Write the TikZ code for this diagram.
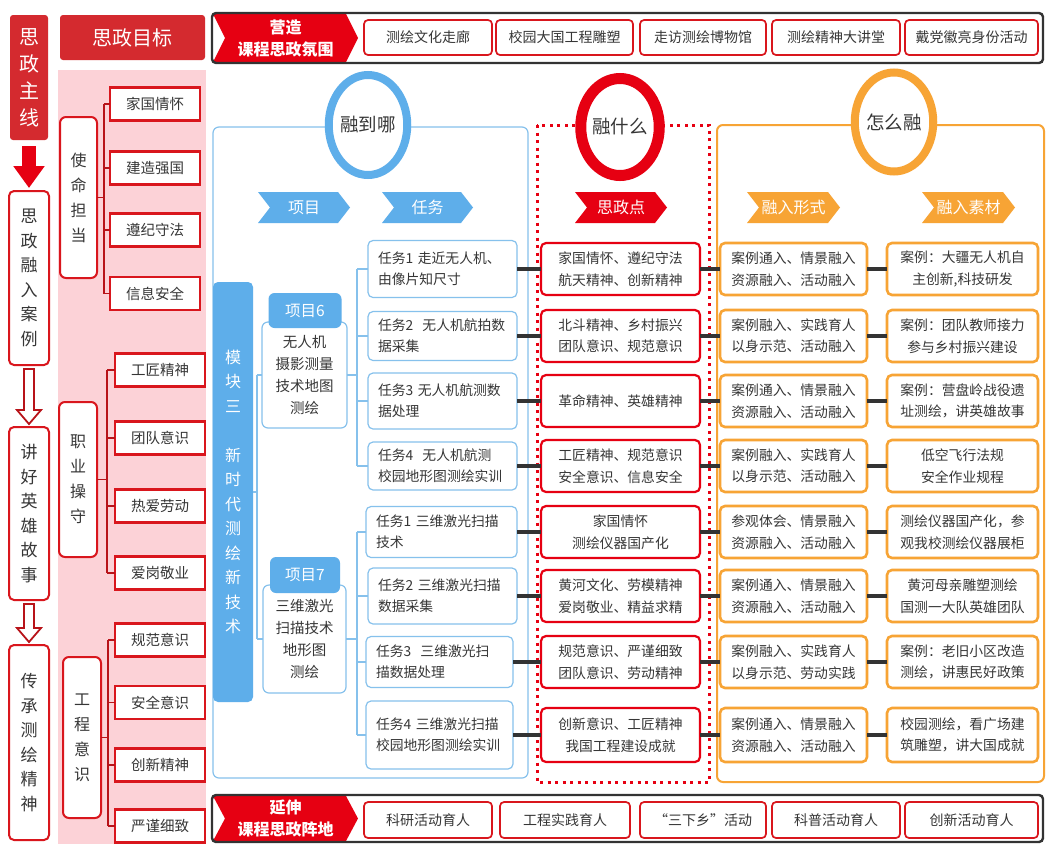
\documentclass[tikz,border=0pt]{standalone}
\usepackage{fontspec}
\setmainfont{Noto Sans CJK SC}
\usetikzlibrary{shapes.geometric,calc,arrows.meta}
\newcommand{\zfs}[2]{\fontsize{#1}{#2}\selectfont}
\definecolor{zred}{HTML}{E60012}
\definecolor{hred}{HTML}{D42A2F}
\definecolor{bred}{HTML}{D9161D}
\definecolor{pinkbg}{HTML}{FCD2D7}
\definecolor{zblue}{HTML}{5EAEEA}
\definecolor{lblue}{HTML}{86C1EC}
\definecolor{zorange}{HTML}{F7A435}
\definecolor{txt}{HTML}{363636}
\definecolor{dk}{HTML}{333333}
\tikzset{
 every node/.style={inner sep=0pt, outer sep=0pt},
 lefthead/.style={fill=hred, rounded corners=3pt, text=white, align=center},
 vlabel/.style={draw=bred, line width=2pt, fill=white, rounded corners=5pt, font=\zfs{17}{24.5}, align=center, text=txt},
 hollow/.style={draw=bred!85!black, line width=1.8pt, fill=white, line join=miter},
 goalitem/.style={draw=bred, line width=2.4pt, fill=white, font=\zfs{14.5}{18}, text=txt, minimum width=90, minimum height=33},
 grp/.style={draw=bred, line width=2pt, fill=white, rounded corners=6pt, font=\zfs{16}{25}, align=center, text=txt},
 brk/.style={draw=bred!85!black, line width=1.1pt},
 banner/.style={draw=dk, line width=2.4pt, rounded corners=4pt},
 banitem/.style={draw=bred, line width=1.7pt, fill=white, rounded corners=4pt, font=\zfs{14}{17}, text=txt, minimum height=35},
 chevtext/.style={text=white, font=\zfs{16}{20}, align=center},
 bantext/.style={text=white, font=\bfseries\zfs{16}{22}, align=center},
 ring/.style={ellipse, fill=white, font=\zfs{18.5}{22}, text=txt},
 modbar/.style={fill=zblue, rounded corners=5pt, text=white, font=\zfs{16}{24.5}, align=center},
 proj/.style={draw=lblue, line width=1.2pt, fill=white, rounded corners=6pt, font=\zfs{14.5}{22}, text=txt, align=center},
 projhead/.style={fill=zblue, rounded corners=6pt, text=white, font=\zfs{15.5}{18}},
 task/.style={draw=lblue, line width=1.2pt, fill=white, rounded corners=5pt, font=\zfs{13.8}{21}, text=txt, align=left},
 bconn/.style={draw=lblue, line width=1.2pt},
 dconn/.style={draw=dk, line width=3.6pt},
 point/.style={draw=zred, line width=2.2pt, fill=white, rounded corners=5pt, font=\zfs{13.8}{21.5}, text=txt, align=center, minimum width=159, minimum height=52},
 form/.style={draw=zorange, line width=2.6pt, fill=white, rounded corners=5pt, font=\zfs{13.8}{21.5}, text=txt, align=center, minimum width=147, minimum height=52},
 mat/.style={draw=zorange, line width=2.6pt, fill=white, rounded corners=5pt, font=\zfs{13.8}{21.5}, text=txt, align=center, minimum width=151, minimum height=52},
}
% name, x1, x2, y1, y2, colour, depth, text, text style
\newcommand{\chev}[9]{%
  \fill[#6] (#2,#4) -- ({#3-#7},#4) -- (#3,{(#4+#5)/2}) -- ({#3-#7},#5) -- (#2,#5) -- ({#2+#7},{(#4+#5)/2}) -- cycle;
  \node[#9] (#1) at ({(#2+#3)/2},{(#4+#5)/2}) {#8};}
\newcommand{\harrow}[2]{\draw[hollow] ($(#1.south)+(-5,4)$) -- ($(#2.north)+(-5,-17)$) -- ($(#2.north)+(-12,-17)$) -- ($(#2.north)+(0,-3)$) -- ($(#2.north)+(12,-17)$) -- ($(#2.north)+(5,-17)$) -- ($(#1.south)+(5,4)$) -- cycle;}
\begin{document}
\begin{tikzpicture}[x=1pt,y=-1pt]
\useasboundingbox (0,0) rectangle (1048,844);
\fill[white] (0,0) rectangle (1048,844);

% ---------- left column ----------
\node[lefthead, minimum width=38, minimum height=125, font=\zfs{20}{27}] (mainline) at (29,77.5) {思\\政\\主\\线};
\node[vlabel, minimum width=40, minimum height=174] (c1) at (29,278) {思\\政\\融\\入\\案\\例};
\node[vlabel, minimum width=40, minimum height=173] (c2) at (29,513.5) {讲\\好\\英\\雄\\故\\事};
\node[vlabel, minimum width=40, minimum height=195] (c3) at (29,742.5) {传\\承\\测\\绘\\精\\神};
\draw[zred, line width=14pt, -{Triangle[length=22pt,width=30pt]}] ($(mainline.south)+(0,6)$) -- ($(c1.north)+(0,-3)$);
\harrow{c1}{c2}
\harrow{c2}{c3}

% ---------- goals column ----------
\fill[pinkbg] (58,70) rectangle (206,844);
\node[lefthead, minimum width=145, minimum height=45, font=\zfs{20}{24}] (goalhead) at (132.5,37.5) {思政目标};

\node[grp, minimum width=37, minimum height=161] (g1) at (78.5,197.5) {使\\命\\担\\当};
\node[goalitem] (g1a) at (155,104) {家国情怀};
\node[goalitem] (g1b) at (155,168) {建造强国};
\node[goalitem] (g1c) at (155,230) {遵纪守法};
\node[goalitem] (g1d) at (155,293.5) {信息安全};
\coordinate (b1) at (104,0);
\draw[brk] (g1.east) -- (g1.east -| b1);
\draw[brk] (g1a.west -| b1) -- (g1d.west -| b1);
\foreach \i in {g1a,g1b,g1c,g1d} \draw[brk] (\i.west -| b1) -- (\i.west);

\node[grp, minimum width=38, minimum height=155] (g2) at (78,479.5) {职\\业\\操\\守};
\node[goalitem] (g2a) at (160,370) {工匠精神};
\node[goalitem] (g2b) at (160,438) {团队意识};
\node[goalitem] (g2c) at (160,506) {热爱劳动};
\node[goalitem] (g2d) at (160,573) {爱岗敬业};
\coordinate (b2) at (107,0);
\draw[brk] (g2.east) -- (g2.east -| b2);
\draw[brk] (g2a.west -| b2) -- (g2d.west -| b2);
\foreach \i in {g2a,g2b,g2c,g2d} \draw[brk] (\i.west -| b2) -- (\i.west);

\node[grp, minimum width=38, minimum height=161] (g3) at (82,737.5) {工\\程\\意\\识};
\node[goalitem] (g3a) at (160,640) {规范意识};
\node[goalitem] (g3b) at (160,702.5) {安全意识};
\node[goalitem] (g3c) at (160,765) {创新精神};
\node[goalitem] (g3d) at (160,826) {严谨细致};
\coordinate (b3) at (108,0);
\draw[brk] (g3.east) -- (g3.east -| b3);
\draw[brk] (g3a.west -| b3) -- (g3d.west -| b3);
\foreach \i in {g3a,g3b,g3c,g3d} \draw[brk] (\i.west -| b3) -- (\i.west);

% ---------- top banner ----------
\chev{topchev}{213}{358}{14}{62}{zred}{12}{营造\\课程思政氛围}{bantext}
\draw[banner] (212,13) rectangle (1043,63);
\node[banitem, minimum width=128] (ta) at (428,37.5) {测绘文化走廊};
\node[banitem, minimum width=137] (tb) at (564.5,37.5) {校园大国工程雕塑};
\node[banitem, minimum width=126] (tc) at (703,37.5) {走访测绘博物馆};
\node[banitem, minimum width=128] (td) at (836,37.5) {测绘精神大讲堂};
\node[banitem, minimum width=133] (te) at (971.5,37.5) {戴党徽亮身份活动};

% ---------- bottom banner ----------
\chev{botchev}{213}{358}{796}{841}{zred}{12}{延伸\\课程思政阵地}{bantext}
\draw[banner] (212,795) rectangle (1043,842);
\node[banitem, minimum width=128, minimum height=36] (ba) at (428,820) {科研活动育人};
\node[banitem, minimum width=130, minimum height=36] (bb) at (565,820) {工程实践育人};
\node[banitem, minimum width=126, minimum height=36] (bc) at (703,820) {“三下乡”活动};
\node[banitem, minimum width=128, minimum height=36] (bd) at (836,820) {科普活动育人};
\node[banitem, minimum width=133, minimum height=36] (be) at (971.5,820) {创新活动育人};

% ---------- panels ----------
\draw[lblue, line width=1.2pt, rounded corners=6pt] (213,127) rectangle (528,778);
\draw[zred, line width=3pt, dash pattern=on 3pt off 4.5pt] (537,125) rectangle (709,782);
\draw[zorange, line width=2pt, rounded corners=6pt] (717,125) rectangle (1044,782);

\node[ring, draw=zblue, line width=8pt, minimum width=75, minimum height=100] (r1) at (368,125) {融到哪};
\node[ring, draw=zred, line width=11pt, minimum width=73, minimum height=97] (r2) at (620,127) {融什么};
\node[ring, draw=zorange, line width=8pt, minimum width=77, minimum height=99] (r3) at (894,122) {怎么融};

\chev{hxm}{258}{350}{192}{223}{zblue}{12}{项目}{chevtext}
\chev{hrw}{382}{473}{192}{223}{zblue}{12}{任务}{chevtext}
\chev{hsz}{575}{667}{192}{223}{zred}{12}{思政点}{chevtext}
\chev{hxs}{747}{840}{192}{223}{zorange}{12}{融入形式}{chevtext}
\chev{hsc}{922}{1015}{192}{223}{zorange}{12}{融入素材}{chevtext}

% ---------- module / projects / tasks ----------
\node[modbar, minimum width=40, minimum height=420] (mod) at (233,492) {模\\块\\三\\[24.5pt]新\\时\\代\\测\\绘\\新\\技\\术};

\node[proj, minimum width=85, minimum height=106] (p6) at (304.5,375) {无人机\\摄影测量\\技术地图\\测绘};
\node[projhead, minimum width=73, minimum height=35] (p6h) at (305,310.5) {项目6};
\node[proj, minimum width=83, minimum height=108] (p7) at (304.5,639) {三维激光\\扫描技术\\地形图\\测绘};
\node[projhead, minimum width=70, minimum height=36] (p7h) at (305,575) {项目7};

\coordinate (m) at (257,0);
\draw[bconn] (mod.east) -- (mod.east -| m);
\draw[bconn] (p6.west -| m) -- (p7.west -| m);
\draw[bconn] (p6.west -| m) -- (p6.west);
\draw[bconn] (p7.west -| m) -- (p7.west);

\node[task, minimum width=149, minimum height=57, text width=129] (t1) at (442.5,269) {任务1 走近无人机、\\由像片知尺寸};
\node[task, minimum width=149, minimum height=49, text width=129] (t2) at (442.5,336) {任务2\ \ 无人机航拍数\\据采集};
\node[task, minimum width=149, minimum height=56, text width=129] (t3) at (442.5,401) {任务3 无人机航测数\\据处理};
\node[task, minimum width=149, minimum height=48, text width=129] (t4) at (442.5,466) {任务4\ \ 无人机航测\\校园地形图测绘实训};
\node[task, minimum width=151, minimum height=51, text width=131] (t5) at (441.5,532) {任务1 三维激光扫描\\技术};
\node[task, minimum width=149, minimum height=56, text width=129] (t6) at (442.5,596) {任务2 三维激光扫描\\数据采集};
\node[task, minimum width=147, minimum height=51, text width=127] (t7) at (439.5,662) {任务3\ \ 三维激光扫\\描数据处理};
\node[task, minimum width=147, minimum height=68, text width=127] (t8) at (439.5,735) {任务4 三维激光扫描\\校园地形图测绘实训};

\coordinate (q) at (357,0);
\draw[bconn] (p6.east) -- (p6.east -| q);
\draw[bconn] (t1.west -| q) -- (t4.west -| q);
\foreach \i in {t1,t2,t3,t4} \draw[bconn] (\i.west -| q) -- (\i.west);
\draw[bconn] (p7.east) -- (p7.east -| q);
\draw[bconn] (t5.west -| q) -- (t8.west -| q);
\foreach \i in {t5,t6,t7,t8} \draw[bconn] (\i.west -| q) -- (\i.west);

% ---------- rows ----------
\node[point] (s1) at (620.5,269) {家国情怀、遵纪守法\\航天精神、创新精神};
\node[point] (s2) at (620.5,336) {北斗精神、乡村振兴\\团队意识、规范意识};
\node[point] (s3) at (620.5,401) {革命精神、英雄精神};
\node[point] (s4) at (620.5,466) {工匠精神、规范意识\\安全意识、信息安全};
\node[point] (s5) at (620.5,532) {家国情怀\\测绘仪器国产化};
\node[point] (s6) at (620.5,596) {黄河文化、劳模精神\\爱岗敬业、精益求精};
\node[point] (s7) at (620.5,662) {规范意识、严谨细致\\团队意识、劳动精神};
\node[point, minimum height=54] (s8) at (620.5,735) {创新意识、工匠精神\\我国工程建设成就};

\node[form] (f1) at (793.5,269) {案例通入、情景融入\\资源融入、活动融入};
\node[form] (f2) at (793.5,336) {案例融入、实践育人\\以身示范、活动融入};
\node[form] (f3) at (793.5,401) {案例通入、情景融入\\资源融入、活动融入};
\node[form] (f4) at (793.5,466) {案例融入、实践育人\\以身示范、活动融入};
\node[form] (f5) at (793.5,532) {参观体会、情景融入\\资源融入、活动融入};
\node[form] (f6) at (793.5,596) {案例通入、情景融入\\资源融入、活动融入};
\node[form] (f7) at (793.5,662) {案例融入、实践育人\\以身示范、劳动实践};
\node[form, minimum height=54] (f8) at (793.5,735) {案例通入、情景融入\\资源融入、活动融入};

\node[mat] (m1) at (962.5,269) {案例：大疆无人机自\\主创新,科技研发};
\node[mat] (m2) at (962.5,336) {案例：团队教师接力\\参与乡村振兴建设};
\node[mat] (m3) at (962.5,401) {案例：营盘岭战役遗\\址测绘，讲英雄故事};
\node[mat] (m4) at (962.5,466) {低空飞行法规\\安全作业规程};
\node[mat] (m5) at (962.5,532) {测绘仪器国产化，参\\观我校测绘仪器展柜};
\node[mat] (m6) at (962.5,596) {黄河母亲雕塑测绘\\国测一大队英雄团队};
\node[mat] (m7) at (962.5,662) {案例：老旧小区改造\\测绘，讲惠民好政策};
\node[mat, minimum height=54] (m8) at (962.5,735) {校园测绘，看广场建\\筑雕塑，讲大国成就};

\foreach \k in {1,...,8} {
  \draw[dconn] (t\k.east) -- (s\k.west);
  \draw[dconn] (s\k.east) -- (f\k.west);
  \draw[dconn] (f\k.east) -- (m\k.west);
}
\end{tikzpicture}
\end{document}
